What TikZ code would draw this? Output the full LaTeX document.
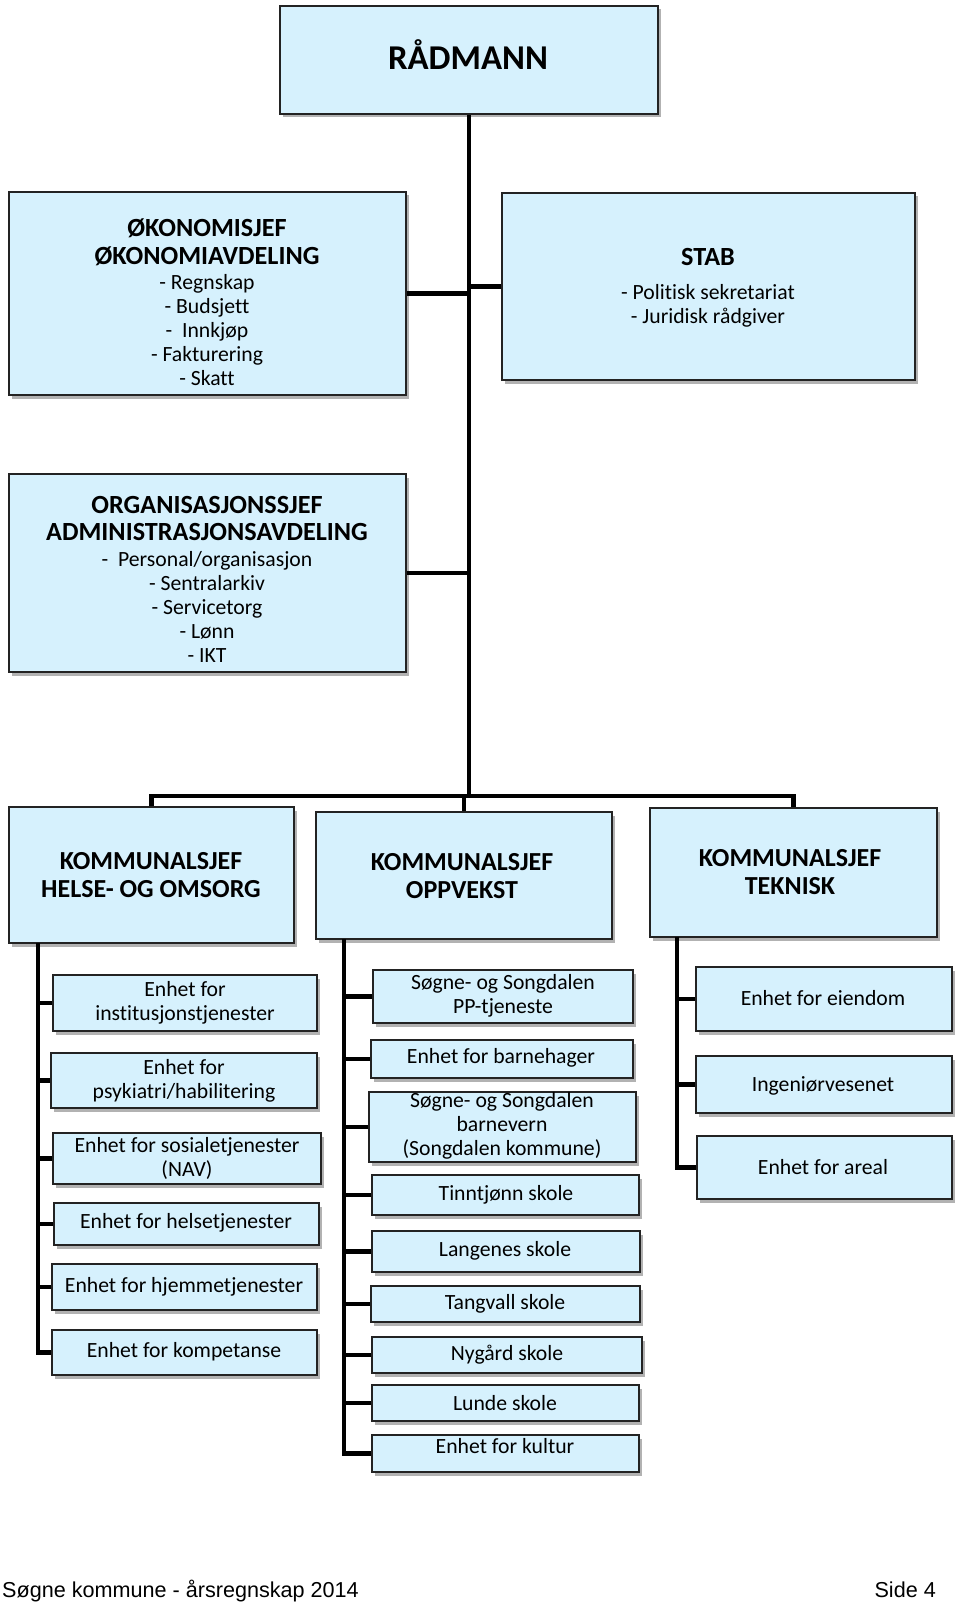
\documentclass[tikz,border=0pt]{standalone}
\usepackage{fontspec}
\setmainfont{Carlito}[Ligatures=NoCommon]
\newfontfamily\footfont{Liberation Sans}
\usetikzlibrary{fit,shadows}
\definecolor{boxfill}{RGB}{214,241,253}
\definecolor{boxline}{RGB}{35,35,35}
\tikzset{
 orgbox/.style={draw=boxline, line width=1.3pt, fill=boxfill, inner sep=0pt,
   drop shadow={shadow xshift=2.5pt, shadow yshift=-3.5pt, fill=black, opacity=0.3}},
 conn/.style={line width=4.5pt, draw=black},
 body/.style={align=center, font=\fontsize{21.7}{24}\selectfont, inner sep=0pt},
 head/.style={align=center, font=\bfseries\fontsize{26.2}{27.5}\selectfont, inner sep=0pt},
 kshead/.style={align=center, font=\bfseries\fontsize{26}{28}\selectfont, inner sep=0pt},
 foottext/.style={font=\footfont\fontsize{21.6}{24}\selectfont, inner sep=0pt},
}
\newcommand\obox[5]{\node[orgbox, fit={(#2,#3) (#4,#5)}] (#1) {};}
\begin{document}
\begin{tikzpicture}[x=1pt,y=-1pt]
\useasboundingbox (0,0) rectangle (960,1602);
\coordinate (bus) at (469,796);
% ---------- top boxes ----------
\obox{rad}{280}{6}{658}{114}
\obox{oko}{9}{192}{406}{395}
\obox{stab}{502}{193}{915}{380}
\obox{org}{9}{474}{406}{672}
\obox{helse}{9}{807}{294}{943}
\obox{oppv}{316}{812}{612}{939}
\obox{tek}{650}{808}{937}{937}
% main connectors
\draw[conn] (rad.south) -- (bus);
\draw[conn] (oko.east) -- (oko.east -| rad.south);
\draw[conn] (stab.west) -- (stab.west -| rad.south);
\draw[conn] (org.east) -- (org.east -| rad.south);
\draw[conn] (helse.north) -- (helse.north |- bus) -- (tek.north |- bus) -- (tek.north);
\draw[conn] (oppv.north) -- (oppv.north |- bus);
% ---------- texts top ----------
\node[font=\bfseries\fontsize{34.8}{38}\selectfont, inner sep=0pt] (radt) at (468,55) {RÅDMANN};
\node[head] (okoh) at (207,242.5) {ØKONOMISJEF\\ØKONOMIAVDELING};
\node[body] (okob) at (207,330) {- Regnskap\\- Budsjett\\-\ \ Innkjøp\\- Fakturering\\- Skatt};
\node[head] (stabh) at (708,257) {STAB};
\node[body] (stabb) at (708,305.5) {- Politisk sekretariat\\- Juridisk rådgiver};
\node[head] (orgh) at (207,518.5) {ORGANISASJONSSJEF\\ADMINISTRASJONSAVDELING};
\node[body] (orgb) at (207,607) {-\ \ Personal/organisasjon\\- Sentralarkiv\\- Servicetorg\\- Lønn\\- IKT};
\node[kshead] (helseh) at (151,875) {KOMMUNALSJEF\\HELSE- OG OMSORG};
\node[kshead] (oppvh) at (462,876) {KOMMUNALSJEF\\OPPVEKST};
\node[kshead] (tekh) at (790,872) {KOMMUNALSJEF\\TEKNISK};
% ---------- helse column ----------
\obox{inst}{53}{975}{317}{1031}
\obox{psyk}{51}{1053}{317}{1108}
\obox{sos}{53}{1133}{321}{1184}
\obox{hels}{54}{1203}{319}{1245}
\obox{hjem}{52}{1264}{317}{1310}
\obox{komp}{52}{1330}{317}{1375}
\coordinate (hv) at (38,943);
\draw[conn] (hv) |- (komp.west);
\foreach \n in {inst,psyk,sos,hels,hjem} \draw[conn] (\n.west) -- (\n.west -| hv);
\node[body] (instt) at (185,1002.5) {Enhet for\\institusjonstjenester};
\node[body] (psykt) at (184,1080.5) {Enhet for\\psykiatri/habilitering};
\node[body] (sost) at (187,1158) {Enhet for sosialetjenester\\(NAV)};
\node[body] (helst) at (186,1223) {Enhet for helsetjenester};
\node[body] (hjemt) at (184,1287) {Enhet for hjemmetjenester};
\node[body] (kompt) at (184,1352) {Enhet for kompetanse};
% ---------- oppvekst column ----------
\obox{pp}{373}{970}{633}{1023}
\obox{bhg}{371}{1040}{633}{1078}
\obox{bv}{369}{1092}{636}{1162}
\obox{tinn}{372}{1175}{639}{1215}
\obox{lang}{372}{1231}{640}{1272}
\obox{tang}{371}{1286}{640}{1322}
\obox{nyg}{372}{1337}{642}{1373}
\obox{lun}{372}{1385}{639}{1421}
\obox{kul}{372}{1435}{639}{1472}
\coordinate (ov) at (344,939);
\draw[conn] (ov) |- (kul.west);
\foreach \n in {pp,bhg,bv,tinn,lang,tang,nyg,lun} \draw[conn] (\n.west) -- (\n.west -| ov);
\node[body] (ppt) at (503,995.5) {Søgne- og Songdalen\\PP-tjeneste};
\node[body] (bhgt) at (501,1058) {Enhet for barnehager};
\node[body] (bvt) at (502,1126) {Søgne- og Songdalen\\barnevern\\(Songdalen kommune)};
\node[body] (tinnt) at (506,1195) {Tinntjønn skole};
\node[body] (langt) at (505,1251) {Langenes skole};
\node[body] (tangt) at (505,1304) {Tangvall skole};
\node[body] (nygt) at (507,1355) {Nygård skole};
\node[body] (lunt) at (505,1403) {Lunde skole};
\node[body] (kult) at (505,1446) {Enhet for kultur};
% ---------- teknisk column ----------
\obox{eien}{696}{967}{952}{1031}
\obox{ing}{696}{1056}{952}{1113}
\obox{are}{697}{1136}{952}{1199}
\coordinate (tv) at (677,937);
\draw[conn] (tv) |- (are.west);
\foreach \n in {eien,ing} \draw[conn] (\n.west) -- (\n.west -| tv);
\node[body] (eient) at (823,998) {Enhet for eiendom};
\node[body] (ingt) at (823,1086) {Ingeniørvesenet};
\node[body] (aret) at (823,1167) {Enhet for areal};
% ---------- footer ----------
\node[foottext, anchor=base west] (foot) at (2,1597) {Søgne kommune - årsregnskap 2014};
\node[foottext, anchor=base east] (side) at (936,1597) {Side 4};
\end{tikzpicture}
\end{document}
